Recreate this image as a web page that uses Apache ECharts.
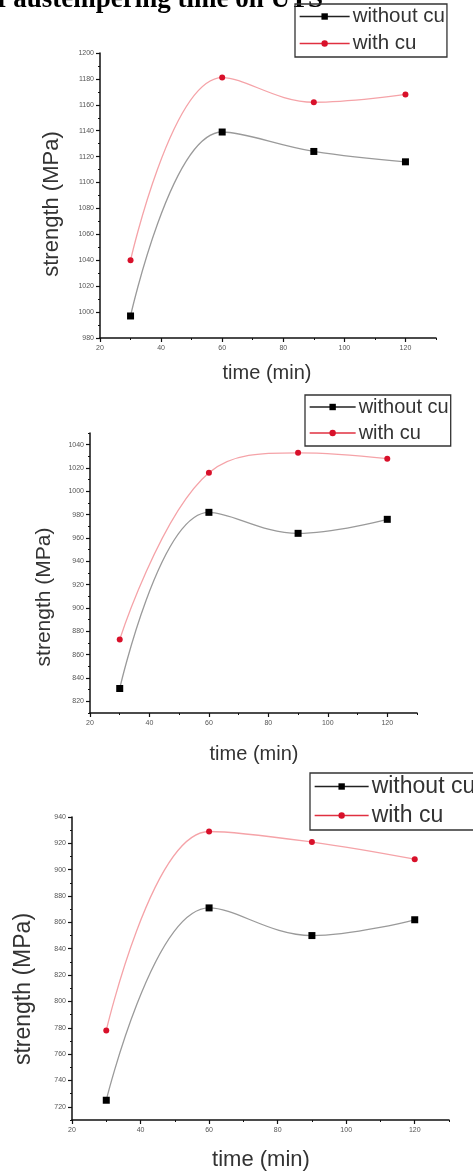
<!DOCTYPE html>
<html><head><meta charset="utf-8">
<script src="https://cdn.jsdelivr.net/npm/echarts@6/dist/echarts.min.js"></script>
<style>html,body{margin:0;padding:0;background:#fff;overflow:hidden}#c{width:473px;height:1173px}</style>
</head><body><div id="c"></div>
<script>
// ---- data ----
const timeMin = [30, 60, 90, 120];
const withoutCu1 = [997, 1139, 1124, 1116];
const withCu1 = [1040, 1181, 1162, 1168];
const withoutCu2 = [831, 982, 964, 976];
const withCu2 = [873, 1016, 1033, 1028];
const withoutCu3 = [725, 871, 850, 862];
const withCu3 = [778, 929, 921, 908];
const xTickLabels = [20, 40, 60, 80, 100, 120];
const yTickLabels1 = [980, 1000, 1020, 1040, 1060, 1080, 1100, 1120, 1140, 1160, 1180, 1200];
const yTickLabels2 = [820, 840, 860, 880, 900, 920, 940, 960, 980, 1000, 1020, 1040];
const yTickLabels3 = [720, 740, 760, 780, 800, 820, 840, 860, 880, 900, 920, 940];
const seriesNames = ['without cu', 'with cu'];
const titleText = 'Effect of austempering time on UTS';
const xName = 'time (min)';
const yName = 'strength (MPa)';

// ---- layout ----
const panels = [
  { grid: {left: 100, top: 53, width: 336, height: 285}, yMin: 980, yMax: 1200, yTicks: yTickLabels1,
    a: withoutCu1, b: withCu1,
    legend: {left: 295, top: 4, fontSize: 20.5, itemWidth: 50},
    yTitle: {x: 52, y: 204, size: 22}, xTitle: {x: 267, y: 373, size: 20} },
  { grid: {left: 90, top: 433, width: 327, height: 280}, yMin: 810, yMax: 1050, yTicks: yTickLabels2,
    a: withoutCu2, b: withCu2,
    legend: {left: 305, top: 395, fontSize: 20, itemWidth: 46},
    yTitle: {x: 44, y: 597, size: 21}, xTitle: {x: 254, y: 754, size: 20} },
  { grid: {left: 72, top: 817, width: 377, height: 303}, yMin: 710, yMax: 940, yTicks: yTickLabels3,
    a: withoutCu3, b: withCu3,
    legend: {left: 310, top: 773, fontSize: 23, itemWidth: 54},
    yTitle: {x: 24, y: 989, size: 23}, xTitle: {x: 261, y: 1160, size: 22} }
];

const FONT = 'Liberation Sans, Arial, sans-serif';
const grids = [], xAxes = [], yAxes = [], series = [], legends = [], graphics = [];
const xMinor = xTickLabels.map(v => v + 10);
const plain = v => String(v);

panels.forEach((p, i) => {
  grids.push(Object.assign({}, p.grid));
  const yMinor = [p.yTicks[0] - 10].concat(p.yTicks.map(v => v + 10)).filter(v => v >= p.yMin && v <= p.yMax);
  const axLine = {show: true, lineStyle: {color: '#111', width: 1.5}};
  xAxes.push({type: 'value', gridIndex: i, min: 20, max: 130, position: 'bottom',
    axisLine: axLine, splitLine: {show: false},
    axisTick: {show: true, customValues: xTickLabels, length: 4, lineStyle: {color: '#111', width: 1.2}},
    axisLabel: {customValues: xTickLabels, formatter: plain, fontSize: 7, color: '#555', margin: 7, fontFamily: FONT}});
  xAxes.push({type: 'value', gridIndex: i, min: 20, max: 130, position: 'bottom',
    axisLine: {show: false}, splitLine: {show: false},
    axisTick: {show: true, customValues: xMinor, length: 2, lineStyle: {color: '#111', width: 1}},
    axisLabel: {show: false}});
  yAxes.push({type: 'value', gridIndex: i, min: p.yMin, max: p.yMax, position: 'left',
    axisLine: axLine, splitLine: {show: false},
    axisTick: {show: true, customValues: p.yTicks, length: 4, lineStyle: {color: '#111', width: 1.2}},
    axisLabel: {customValues: p.yTicks, formatter: plain, fontSize: 7, color: '#555', margin: 6, fontFamily: FONT}});
  yAxes.push({type: 'value', gridIndex: i, min: p.yMin, max: p.yMax, position: 'left',
    axisLine: {show: false}, splitLine: {show: false},
    axisTick: {show: true, customValues: yMinor, length: 2, lineStyle: {color: '#111', width: 1}},
    axisLabel: {show: false}});

  series.push({name: seriesNames[0], type: 'line', xAxisIndex: 2 * i, yAxisIndex: 2 * i,
    data: timeMin.map((t, k) => [t, p.a[k]]), smooth: 0.4,
    symbol: 'rect', symbolSize: 7, itemStyle: {color: '#000'},
    lineStyle: {color: '#9a9a9a', width: 1.3}, z: 3});
  series.push({name: seriesNames[1], type: 'line', xAxisIndex: 2 * i, yAxisIndex: 2 * i,
    data: timeMin.map((t, k) => [t, p.b[k]]), smooth: 0.4,
    symbol: 'circle', symbolSize: 6, itemStyle: {color: '#d8102a'},
    lineStyle: {color: '#f5a3a8', width: 1.3}, z: 3});

  legends.push({orient: 'vertical', left: p.legend.left, top: p.legend.top,
    padding: [2, 2, 3, 4], itemGap: 6, itemWidth: p.legend.itemWidth, itemHeight: 8,
    borderColor: '#333', borderWidth: 1.3, selectedMode: false,
    textStyle: {fontSize: p.legend.fontSize, color: '#333', fontFamily: FONT, padding: [0, 0, 0, -2]},
    data: [
      {name: seriesNames[0], itemStyle: {color: '#000'}, lineStyle: {color: '#222', width: 1.3}},
      {name: seriesNames[1], itemStyle: {color: '#d8102a'}, lineStyle: {color: '#e03040', width: 1.3}}
    ]});

  graphics.push({type: 'text', x: p.yTitle.x, y: p.yTitle.y, rotation: Math.PI / 2,
    style: {text: yName, fontSize: p.yTitle.size, fontFamily: FONT, fill: '#333', align: 'center', verticalAlign: 'middle'}});
  graphics.push({type: 'text', x: p.xTitle.x, y: p.xTitle.y,
    style: {text: xName, fontSize: p.xTitle.size, fontFamily: FONT, fill: '#333', align: 'center', verticalAlign: 'middle'}});
});

graphics.push({type: 'text', x: 323, y: 14,
  style: {text: titleText, fontSize: 27, fontWeight: 'bold', fontFamily: 'Liberation Serif, Times New Roman, serif', fill: '#000', align: 'right', verticalAlign: 'bottom'}});

const chart = echarts.init(document.getElementById('c'), null, {renderer: 'canvas'});
chart.setOption({
  backgroundColor: '#fff',
  animation: false,
  grid: grids, xAxis: xAxes, yAxis: yAxes, series: series, legend: legends, graphic: graphics
});
</script></body></html>
